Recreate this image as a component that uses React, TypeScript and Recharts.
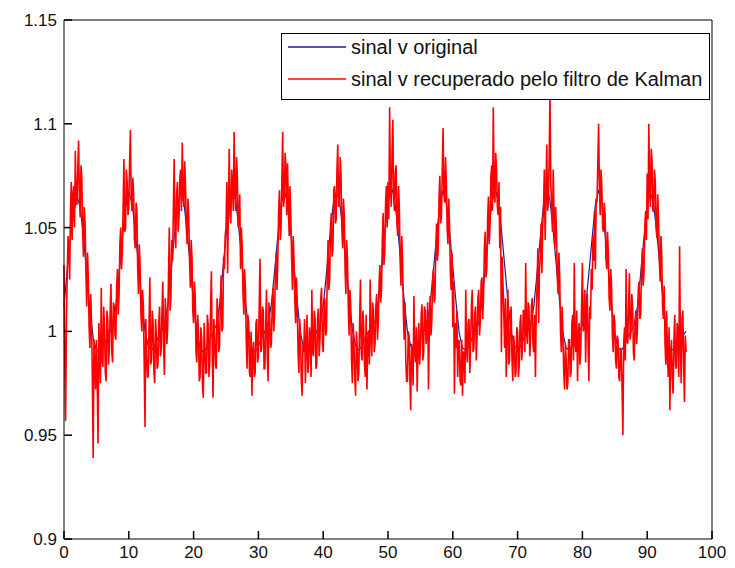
import { Legend, Line, LineChart, XAxis, YAxis } from "recharts";

// sampling step of each signal along x
const ORIGINAL_STEP = 0.5;
const KALMAN_STEP = 0.125;

// sinal v original, x = 0 .. 96
const originalValues = [
  1.012, 1.03, 1.045, 1.057, 1.065, 1.06, 1.046, 1.028, 1.01, 0.997, 0.991, 0.99, 0.992, 0.996, 0.999, 1.003,
  1.012, 1.028, 1.045, 1.06, 1.067, 1.062, 1.048, 1.032, 1.015, 1.0, 0.993, 0.991, 0.993, 0.997, 1.0, 1.003,
  1.012, 1.028, 1.045, 1.06, 1.068, 1.062, 1.048, 1.031, 1.014, 1.0, 0.992, 0.99, 0.992, 0.996, 1.0, 1.003,
  1.012, 1.029, 1.046, 1.061, 1.068, 1.063, 1.049, 1.032, 1.015, 1.0, 0.992, 0.99, 0.993, 0.997, 1.0, 1.004,
  1.013, 1.029, 1.046, 1.061, 1.068, 1.062, 1.048, 1.031, 1.014, 0.999, 0.992, 0.991, 0.993, 0.997, 1.0, 1.003,
  1.012, 1.028, 1.045, 1.06, 1.067, 1.063, 1.05, 1.033, 1.016, 1.001, 0.993, 0.991, 0.993, 0.997, 1.0, 1.002,
  1.005, 1.014, 1.03, 1.047, 1.062, 1.07, 1.064, 1.05, 1.032, 1.015, 1.0, 0.993, 0.991, 0.993, 0.997, 1.0,
  1.003, 1.013, 1.029, 1.046, 1.061, 1.068, 1.062, 1.048, 1.031, 1.014, 0.999, 0.992, 0.991, 0.993, 0.997, 1.0,
  1.004, 1.014, 1.03, 1.047, 1.061, 1.069, 1.063, 1.049, 1.032, 1.015, 1.0, 0.993, 0.991, 0.993, 0.997, 1.0,
  1.003, 1.012, 1.028, 1.045, 1.061, 1.07, 1.063, 1.048, 1.031, 1.014, 0.999, 0.992, 0.991, 0.993, 0.997, 1.0,
  1.003, 1.012, 1.028, 1.045, 1.061, 1.068, 1.062, 1.047, 1.03, 1.013, 0.999, 0.992, 0.991, 0.993, 0.997, 1.0,
  1.003, 1.012, 1.028, 1.045, 1.06, 1.067, 1.061, 1.047, 1.03, 1.013, 0.999, 0.992, 0.991, 0.993, 0.996, 0.998,
  1.0,
];

// sinal v recuperado pelo filtro de Kalman, x = 0 .. 96 (one row = one x unit)
const kalmanValues = [
  1.032, 0.985, 0.957, 1.005, 1.028, 1.046, 1.04, 1.025,
  1.058, 1.072, 1.044, 1.066, 1.07, 1.05, 1.087, 1.062,
  1.061, 1.078, 1.092, 1.064, 1.055, 1.08, 1.074, 1.048,
  1.036, 1.06, 1.052, 1.03, 1.012, 1.038, 1.026, 1.002,
  0.992, 1.018, 1.004, 0.978, 0.939, 0.996, 0.985, 0.972,
  0.996, 0.978, 0.946, 1.004, 0.99, 0.975, 1.021, 0.986,
  0.983, 1.012, 1.002, 0.98, 0.976, 1.01, 1.006, 0.984,
  0.992, 1.01, 1.023, 0.99, 0.985, 1.014, 1.012, 0.998,
  0.996, 1.022, 1.03, 1.008, 1.018, 1.042, 1.05, 1.03,
  1.038, 1.06, 1.083, 1.048, 1.05, 1.078, 1.072, 1.056,
  1.06, 1.082, 1.097, 1.064, 1.058, 1.074, 1.066, 1.044,
  1.04, 1.062, 1.058, 1.03, 1.018, 1.042, 1.03, 1.008,
  1.0, 1.02, 1.012, 0.985, 0.954, 1.006, 0.99, 0.978,
  0.978, 1.004, 1.026, 0.984, 0.986, 1.01, 1.004, 0.98,
  0.975, 1.006, 0.998, 0.982, 0.984, 1.004, 1.012, 0.988,
  0.991, 1.01, 1.024, 0.992, 0.979, 1.016, 1.008, 0.994,
  1.002, 1.026, 1.05, 1.01, 1.016, 1.044, 1.034, 1.058,
  1.083, 1.05, 1.04, 1.066, 1.072, 1.048, 1.055, 1.074,
  1.078, 1.058, 1.091, 1.066, 1.06, 1.082, 1.07, 1.05,
  1.042, 1.064, 1.056, 1.034, 1.021, 1.044, 1.036, 1.01,
  1.004, 1.024, 1.017, 0.99, 0.985, 1.008, 1.0, 0.976,
  0.978, 1.002, 0.996, 0.974, 0.968, 1.004, 0.992, 0.98,
  0.98, 1.008, 1.003, 0.978, 0.986, 1.012, 1.029, 0.99,
  0.968, 1.006, 0.998, 0.984, 0.982, 1.016, 1.01, 0.99,
  0.993, 1.014, 1.027, 1.0, 1.002, 1.036, 1.03, 1.046,
  1.05, 1.072, 1.028, 1.06, 1.088, 1.056, 1.052, 1.078,
  1.07, 1.058, 1.096, 1.068, 1.058, 1.084, 1.075, 1.05,
  1.052, 1.066, 1.03, 1.05, 1.04, 1.018, 1.008, 1.03,
  1.02, 0.996, 0.982, 1.008, 1.004, 0.98, 0.978, 1.0,
  0.969, 0.99, 0.995, 0.978, 0.98, 1.004, 1.006, 0.985,
  0.988, 1.012, 1.035, 0.99, 0.992, 1.012, 1.01, 0.982,
  0.982, 1.004, 1.02, 0.988, 0.976, 1.014, 1.006, 0.992,
  0.994, 1.012, 1.021, 1.0, 1.008, 1.03, 1.038, 1.02,
  1.036, 1.058, 1.068, 1.044, 1.05, 1.074, 1.096, 1.06,
  1.064, 1.086, 1.078, 1.056, 1.081, 1.06, 1.046, 1.07,
  1.056, 1.036, 1.02, 1.046, 1.034, 1.014, 1.004, 1.026,
  1.012, 0.99, 0.98, 1.006, 0.998, 0.976, 0.969, 0.994,
  0.99, 1.006, 0.975, 0.992, 1.008, 0.98, 0.984, 1.002,
  0.998, 0.978, 1.02, 0.99, 0.988, 1.01, 1.006, 0.982,
  0.984, 1.006, 1.011, 0.988, 0.996, 1.016, 1.021, 0.994,
  0.99, 1.01, 1.016, 0.998, 1.0, 1.028, 1.044, 1.02,
  1.025, 1.05, 1.057, 1.036, 1.04, 1.068, 1.07, 1.052,
  1.054, 1.078, 1.09, 1.06, 1.062, 1.084, 1.075, 1.05,
  1.04, 1.064, 1.056, 1.03, 1.018, 1.044, 1.034, 1.012,
  0.998, 1.02, 1.012, 0.986, 0.975, 1.004, 0.994, 0.978,
  0.969, 1.0, 0.992, 0.976, 0.98, 1.006, 1.025, 0.99,
  0.986, 1.01, 1.002, 0.984, 0.978, 1.008, 0.972, 0.996,
  1.0, 0.984, 1.025, 0.996, 0.988, 1.014, 1.01, 0.99,
  0.994, 1.012, 1.018, 0.996, 1.004, 1.024, 1.032, 1.014,
  1.02, 1.044, 1.057, 1.032, 1.038, 1.062, 1.07, 1.05,
  1.072, 1.054, 1.108, 1.07, 1.06, 1.086, 1.102, 1.064,
  1.058, 1.076, 1.08, 1.052, 1.046, 1.07, 1.06, 1.034,
  1.022, 1.046, 1.034, 1.008, 0.996, 1.014, 0.985, 0.976,
  0.976, 1.0, 0.998, 0.978, 0.962, 0.994, 0.99, 0.974,
  1.017, 0.99, 0.985, 1.002, 0.971, 0.992, 1.004, 0.984,
  0.992, 1.008, 1.013, 0.986, 0.99, 1.012, 1.01, 0.994,
  0.998, 1.014, 0.972, 1.002, 1.017, 0.998, 1.004, 1.024,
  1.03, 1.014, 1.016, 1.04, 1.052, 1.034, 1.04, 1.064,
  1.075, 1.052, 1.056, 1.078, 1.098, 1.066, 1.062, 1.084,
  1.072, 1.05, 1.042, 1.064, 1.05, 1.028, 1.02, 1.038,
  1.002, 1.024, 0.97, 1.004, 0.992, 1.01, 0.978, 0.996,
  0.995, 0.976, 0.974, 0.996, 0.969, 0.99, 0.99, 0.975,
  1.02, 0.992, 0.985, 1.004, 1.006, 0.98, 0.994, 1.012,
  1.02, 0.99, 0.992, 1.008, 1.012, 0.986, 0.998, 1.016,
  1.02, 0.998, 1.005, 1.024, 1.026, 1.006, 1.018, 1.04,
  1.048, 1.026, 1.03, 1.054, 1.065, 1.042, 1.052, 1.074,
  1.08, 1.058, 1.108, 1.07, 1.062, 1.086, 1.078, 1.06,
  1.056, 1.072, 1.04, 1.06, 0.99, 1.036, 1.022, 1.008,
  0.992, 1.016, 0.978, 1.0, 1.02, 0.984, 0.986, 1.006,
  1.012, 0.988, 0.976, 0.998, 0.994, 0.978, 0.98, 1.002,
  1.0, 0.978, 0.984, 1.004, 1.008, 0.986, 0.992, 1.01,
  1.01, 0.99, 1.033, 1.0, 0.994, 1.014, 1.012, 0.988,
  0.996, 1.012, 1.016, 0.994, 0.99, 1.008, 0.978, 1.01,
  1.022, 1.04, 1.004, 1.03, 1.036, 1.052, 1.028, 1.05,
  1.06, 1.078, 1.044, 1.066, 1.09, 1.058, 1.062, 1.084,
  1.114, 1.07, 1.062, 1.048, 1.078, 1.056, 1.04, 1.06,
  1.048, 1.026, 1.018, 1.038, 1.026, 1.0, 0.99, 1.012,
  0.998, 0.98, 0.972, 0.994, 0.986, 0.972, 0.975, 0.996,
  0.996, 0.978, 0.98, 1.004, 1.008, 0.986, 1.033, 0.994,
  0.99, 1.01, 0.976, 0.998, 1.004, 0.984, 0.992, 1.012,
  1.033, 1.0, 1.002, 1.02, 0.985, 1.008, 1.018, 0.996,
  0.976, 1.012, 1.006, 1.03, 1.02, 1.046, 1.034, 1.058,
  1.03, 1.064, 1.062, 1.08, 1.1, 1.07, 1.056, 1.078,
  1.07, 1.05, 1.048, 1.062, 1.056, 1.036, 1.03, 1.048,
  1.038, 1.016, 1.01, 1.03, 1.022, 0.998, 0.99, 1.008,
  1.004, 0.986, 0.982, 0.998, 0.996, 0.978, 0.976, 0.992,
  0.99, 0.972, 0.95, 0.994, 1.002, 0.986, 1.03, 0.996,
  0.994, 1.012, 1.028, 0.996, 1.0, 1.018, 1.012, 0.99,
  0.986, 1.004, 1.01, 0.994, 1.002, 1.02, 1.024, 1.006,
  1.008, 1.03, 1.04, 1.022, 1.028, 1.05, 1.058, 1.044,
  1.076, 1.054, 1.1, 1.07, 1.06, 1.088, 1.082, 1.058,
  1.058, 1.078, 1.072, 1.05, 1.045, 1.066, 1.054, 1.034,
  1.024, 1.046, 1.036, 1.012, 1.006, 1.022, 0.994, 0.984,
  1.01, 0.988, 0.978, 1.002, 0.962, 0.99, 0.996, 0.976,
  0.97, 0.996, 1.008, 0.984, 0.982, 1.004, 0.999, 0.978,
  1.041, 0.994, 0.975, 1.006, 1.01, 0.984, 0.966, 0.998,
  0.99,
];

const xTicks = [0, 10, 20, 30, 40, 50, 60, 70, 80, 90, 100];
const yTicks = [0.9, 0.95, 1, 1.05, 1.1, 1.15];

const SERIES = [
  { name: "sinal v original", color: "#1c1c9c" },
  { name: "sinal v recuperado pelo filtro de Kalman", color: "#ff0000" },
];

const originalData = originalValues.map((v, i) => ({ x: i * ORIGINAL_STEP, v }));
const kalmanData = kalmanValues.map((v, i) => ({ x: i * KALMAN_STEP, v }));

const FONT = "'Liberation Sans', Arial, sans-serif";
// negative size = MATLAB style ticks pointing into the plot
const TICK_IN = -8;
const LABEL_MARGIN = 15;
const tickText = { fill: "#111", fontSize: 17, fontFamily: FONT };
const axisStroke = { stroke: "#000" };
const tickStroke = { stroke: "#000", strokeWidth: 1.5 };

function LegendBox() {
  return (
    <div
      style={{
        position: "relative",
        width: 429,
        height: 67,
        boxSizing: "border-box",
        border: "1px solid #000",
        background: "#fff",
        fontFamily: FONT,
        fontSize: 20,
        color: "#111",
      }}
    >
      {SERIES.map((s, i) => (
        <div
          key={s.name}
          style={{
            position: "absolute",
            left: 0,
            top: 1 + i * 32,
            height: 24,
            display: "flex",
            alignItems: "center",
            whiteSpace: "nowrap",
          }}
        >
          <svg width={69} height={10}>
            <line x1={6} x2={64} y1={5} y2={5} stroke={s.color} strokeWidth={1.5} />
          </svg>
          <span>{s.name}</span>
        </div>
      ))}
    </div>
  );
}

export default function App() {
  return (
    <div style={{ position: "absolute", left: 0, top: 0, background: "#fff" }}>
      <LineChart width={735} height={568} margin={{ top: 19, right: 22, bottom: 0, left: 0 }}>
        <XAxis
          xAxisId="b"
          dataKey="x"
          type="number"
          domain={[0, 100]}
          ticks={xTicks}
          height={29}
          tickSize={TICK_IN}
          tickMargin={LABEL_MARGIN}
          tickLine={tickStroke}
          axisLine={axisStroke}
          tick={tickText}
          interval={0}
        />
        <XAxis
          xAxisId="t"
          orientation="top"
          type="number"
          domain={[0, 100]}
          ticks={xTicks}
          height={1}
          tickSize={TICK_IN}
          tickLine={tickStroke}
          axisLine={axisStroke}
          tick={false}
          interval={0}
        />
        <YAxis
          yAxisId="l"
          type="number"
          domain={[0.9, 1.15]}
          ticks={yTicks}
          width={64}
          tickSize={TICK_IN}
          tickMargin={LABEL_MARGIN}
          tickLine={tickStroke}
          axisLine={axisStroke}
          tick={tickText}
          interval={0}
        />
        <YAxis
          yAxisId="r"
          orientation="right"
          type="number"
          domain={[0.9, 1.15]}
          ticks={yTicks}
          width={1}
          tickSize={TICK_IN}
          tickLine={tickStroke}
          axisLine={axisStroke}
          tick={false}
          interval={0}
        />
        <Line
          xAxisId="b"
          yAxisId="l"
          data={originalData}
          dataKey="v"
          name={SERIES[0].name}
          type="linear"
          stroke={SERIES[0].color}
          strokeWidth={1.2}
          dot={false}
          activeDot={false}
          isAnimationActive={false}
        />
        <Line
          xAxisId="b"
          yAxisId="l"
          data={kalmanData}
          dataKey="v"
          name={SERIES[1].name}
          type="linear"
          stroke={SERIES[1].color}
          strokeWidth={1.6}
          dot={false}
          activeDot={false}
          isAnimationActive={false}
        />
        <Legend
          layout="vertical"
          align="center"
          verticalAlign="middle"
          wrapperStyle={{ left: 281, top: 33, width: 429 }}
          content={<LegendBox />}
        />
      </LineChart>
    </div>
  );
}
